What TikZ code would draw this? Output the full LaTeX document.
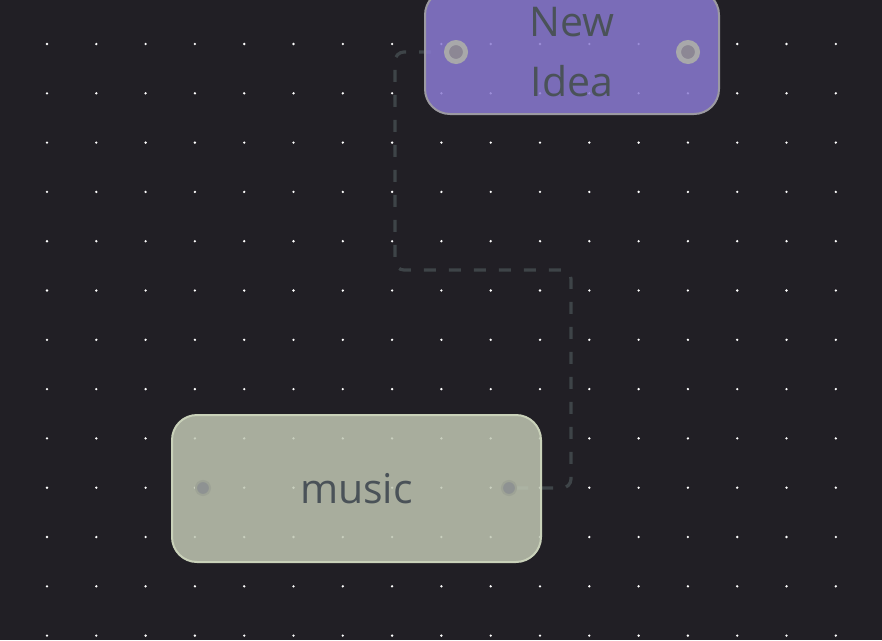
\documentclass[tikz,border=0pt]{standalone}
\usepackage{fontspec}
\setmainfont{Open Sans}
\usepackage{tikz}

\definecolor{canvasbg}{RGB}{33,31,37}
\definecolor{ideafill}{RGB}{138,122,210}
\definecolor{ideaedge}{RGB}{156,154,162}
\definecolor{musicfill}{RGB}{192,199,179}
\definecolor{musicedge}{RGB}{201,209,185}
\definecolor{cardtext}{RGB}{74,82,88}
\definecolor{linkgray}{RGB}{62,68,72}

\tikzset{
  card/.style={rectangle, rounded corners=25pt, line width=2pt,
    fill opacity=0.85, text opacity=1, text=cardtext, align=center,
    font=\fontsize{41}{60}\selectfont, inner sep=0pt},
  ideaport/.style={circle, fill={rgb,255:red,140;green,135;blue,148},
    draw={rgb,255:red,168;green,168;blue,170}, line width=5pt, minimum size=19pt, inner sep=0pt},
  musicport/.style={circle, fill={rgb,255:red,142;green,146;blue,146},
    draw={rgb,255:red,158;green,163;blue,150}, line width=2pt, minimum size=14pt, inner sep=0pt},
  link/.style={linkgray, line width=3.2pt, dash pattern=on 12pt off 13pt, rounded corners=9pt}
}

\begin{document}
\begin{tikzpicture}[x=1pt, y=-1pt]
  \fill[canvasbg] (0,0) rectangle (882,640);
  \useasboundingbox (0,0) rectangle (882,640);
  % dot grid
  \foreach \i in {0,...,16}
    \foreach \j in {0,...,12}
      \fill[white] (47+49.3*\i, 44+49.3*\j) circle (1.3);

  % route of the link
  \coordinate (elbowA) at (395,270);
  \coordinate (elbowB) at (571,270);
  \coordinate (ideaL0) at (456,52);
  \coordinate (musicR0) at (509,488);
  \draw[link] (ideaL0) -| (elbowA) -- (elbowB) |- (musicR0);

  % cards
  \node[card, draw=ideaedge, fill=ideafill, minimum width=294pt, minimum height=124pt]
    (idea) at (572,52) {New\\Idea};
  \node[card, draw=musicedge, fill=musicfill, minimum width=369pt, minimum height=147pt]
    (music) at (356.5,488.5) {music};

  % ports
  \node[ideaport] (ideaL) at (ideaL0) {};
  \node[ideaport] (ideaR) at (688,52) {};
  \node[musicport] (musicL) at (203,488) {};
  \node[musicport] (musicR) at (musicR0) {};
\end{tikzpicture}
\end{document}
